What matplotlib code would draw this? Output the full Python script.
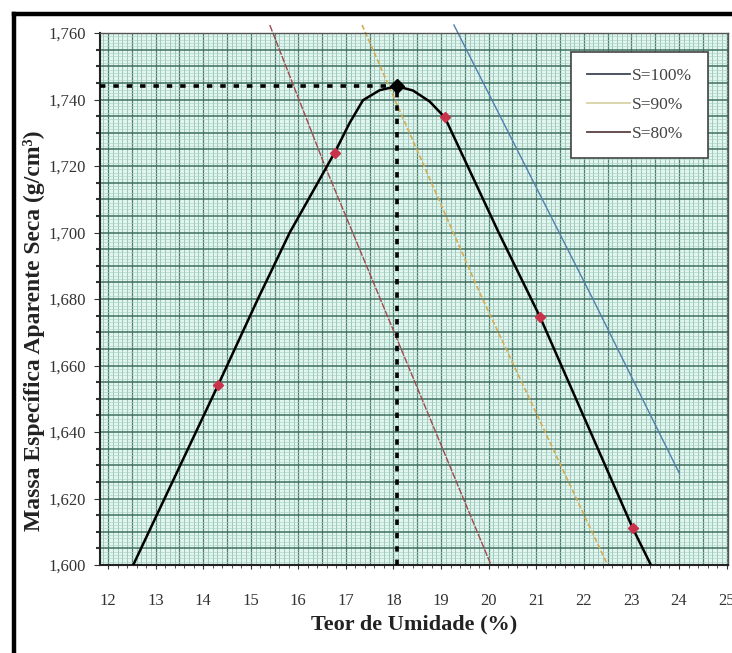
import numpy as np
import matplotlib
matplotlib.use("Agg")
import matplotlib.pyplot as plt
from matplotlib.lines import Line2D
from matplotlib.ticker import MultipleLocator, FuncFormatter

plt.rcParams['font.family'] = ['Liberation Serif', 'DejaVu Serif']

# compaction curve (moisture %, dry density g/cm3)
curve_w = [12.53, 14.31, 15.15, 15.82, 16.30, 16.77, 17.08, 17.36, 17.71, 18.07,
           18.41, 18.76, 19.08, 20.21, 21.08, 23.03, 23.41]
curve_g = [1.600, 1.654, 1.680, 1.700, 1.7122, 1.7242, 1.7330, 1.7398, 1.7428, 1.7440,
           1.7427, 1.7394, 1.7346, 1.700, 1.6746, 1.611, 1.600]

# measured points (red markers)
pts_w = [14.31, 16.77, 19.08, 21.08, 23.03]
pts_g = [1.654, 1.724, 1.7346, 1.6746, 1.611]

# optimum
w_opt = 18.07
g_max = 1.744

# saturation lines
s100_w = [19.27, 22.19, 24.00]
s100_g = [1.7624, 1.680, 1.6278]
s90_w = [17.34, 19.84, 22.50]
s90_g = [1.7624, 1.681, 1.600]
s80_w = [15.40, 16.56, 20.05]
s80_g = [1.7624, 1.720, 1.600]

W, H = 732, 653
fig = plt.figure(figsize=(W / 100, H / 100), dpi=100)
ax = fig.add_axes([100 / W, 1 - 565 / H, 628 / W, 532 / H])

ax.set_xlim(11.832, 25.03)
ax.set_ylim(1.600, 1.760)
ax.set_facecolor('#e2f5ef')

# graph paper grid
for v in np.arange(11.9, 25.05, 0.1):
    major = abs(v * 2 - round(v * 2)) < 1e-6
    ax.axvline(v, color='#4d8070' if major else '#8dbcae', lw=0.9 if major else 0.55, zorder=0)
for h in np.arange(1.600, 1.7601, 0.001):
    k = round((h - 1.600) / 0.001)
    if k % 5 == 0:
        ax.axhline(h, color='#3f6f60', lw=1.1, zorder=0.5)
    else:
        ax.axhline(h, color='#a9d2c4', lw=0.45, zorder=0)

# saturation lines
ax.plot(s100_w, s100_g, color='#4f7fae', lw=1.0, clip_on=False, zorder=2)
ax.plot(s90_w, s90_g, color='#d4ac55', lw=1.2, ls=(0, (3, 1.5)), clip_on=False, zorder=2)
ax.plot(s80_w, s80_g, color='#9c4b4b', lw=1.0, ls=(0, (5, 1)), clip_on=False, zorder=2)

# optimum guides
ax.plot([ax.get_xlim()[0], w_opt], [g_max, g_max], color='black', lw=2.6,
        ls=(0, (1.5, 2.2)), zorder=3)
ax.plot([w_opt, w_opt], [1.600, g_max], color='black', lw=2.6,
        ls=(0, (1.5, 2.2)), zorder=3)

# compaction curve
ax.plot(curve_w, curve_g, color='black', lw=1.8, zorder=4, solid_joinstyle='round')
ax.plot(pts_w, pts_g, ls='none', marker='D', ms=5, color='#c8324a', zorder=5)
ax.plot([w_opt], [g_max], ls='none', marker='D', ms=7, color='black', zorder=6)

# ticks
ax.xaxis.set_major_locator(MultipleLocator(1))
ax.xaxis.set_minor_locator(MultipleLocator(0.2))
ax.yaxis.set_major_locator(MultipleLocator(0.02))
ax.yaxis.set_minor_locator(MultipleLocator(0.005))
ax.yaxis.set_major_formatter(FuncFormatter(lambda v, p: f"{v:.3f}".replace('.', ',')))
ax.tick_params(axis='x', which='major', length=3, pad=17, labelsize=12, colors='#333333')
ax.tick_params(axis='x', which='minor', length=2, color='#333333')
ax.tick_params(axis='y', which='major', length=4, pad=6, labelsize=12, colors='#333333')
ax.tick_params(axis='y', which='minor', length=3, width=1.5, color='#333333')

for side in ['top', 'right']:
    ax.spines[side].set_color('#555555')
    ax.spines[side].set_linewidth(1.0)
for side in ['left', 'bottom']:
    ax.spines[side].set_color('#222222')
    ax.spines[side].set_linewidth(1.5)

ax.set_xlabel('Teor de Umidade (%)', fontsize=16, fontweight='bold', labelpad=4,
              color='#222222')
ax.set_ylabel('Massa Específica Aparente Seca (g/cm³)', fontsize=17,
              fontweight='bold', labelpad=4, color='#222222')
ax.yaxis.set_label_coords(-0.088, 0.44)

handles = [
    Line2D([], [], color='#3e4658', lw=1.3),
    Line2D([], [], color='#d9d2a6', lw=1.3),
    Line2D([], [], color='#5a4040', lw=1.3),
]
leg = ax.legend(handles, ['S=100%', 'S=90%', 'S=80%'], loc='upper right',
                bbox_to_anchor=(0.968, 0.964), borderaxespad=0, fontsize=12.5,
                handlelength=2.5, handletextpad=0.1, labelspacing=0.75,
                borderpad=0.9, fancybox=False, framealpha=1)
leg.get_frame().set_edgecolor('#444444')
leg.get_frame().set_linewidth(1.2)
for t in leg.get_texts():
    t.set_color('#444444')

# outer black frame
fig.add_artist(Line2D([14 / W, 14 / W], [1 - 14 / H, 0], color='black', lw=3.2))
fig.add_artist(Line2D([14 / W, 1], [1 - 14 / H, 1 - 14 / H], color='black', lw=3.2))

fig.savefig('out.png', dpi=100)
